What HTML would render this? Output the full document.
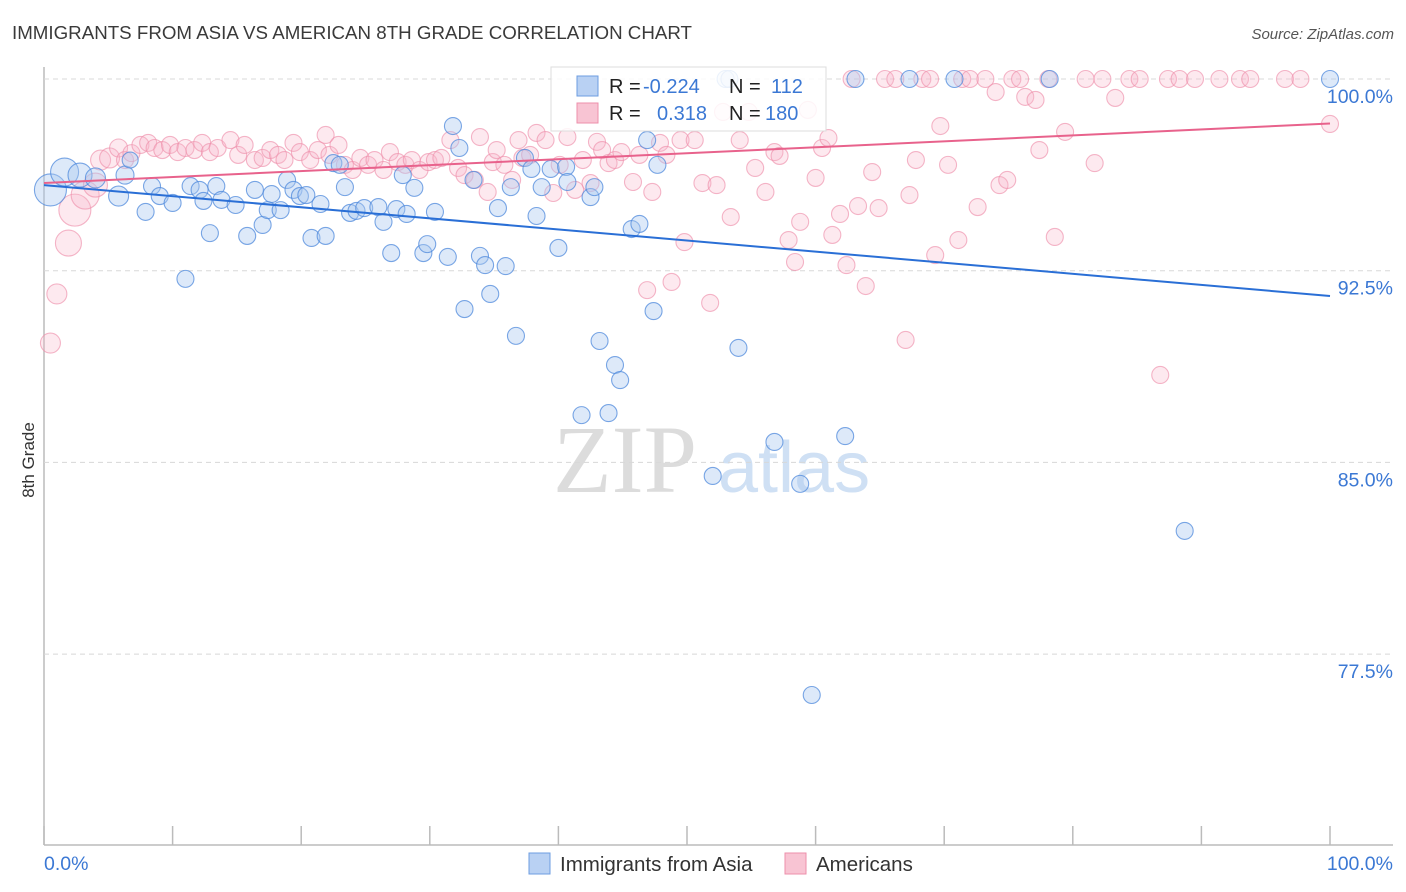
<!DOCTYPE html>
<html><head><meta charset="utf-8"><style>
body{margin:0;background:#fff;font-family:"Liberation Sans",sans-serif}
#wrap{position:relative;width:1406px;height:892px;overflow:hidden}
</style></head><body><div id="wrap">
<svg id="svg" width="1406" height="892" xmlns="http://www.w3.org/2000/svg">
<text x="12" y="39" font-size="18" fill="#3a3a3a" textLength="680" lengthAdjust="spacingAndGlyphs">IMMIGRANTS FROM ASIA VS AMERICAN 8TH GRADE CORRELATION CHART</text>
<text x="1394" y="39" font-size="15" fill="#555" font-style="italic" text-anchor="end">Source: ZipAtlas.com</text>
<text x="34" y="460" font-size="17" fill="#333" text-anchor="middle" transform="rotate(-90 34 460)">8th Grade</text>
<g><text x="553" y="492" font-size="96" font-family="Liberation Serif,serif" fill="#dcdcdc">ZIP</text><text x="718" y="492" font-size="72" fill="#cfe0f4">atlas</text></g>
<g id="grid"></g><g id="pts"></g><g id="lines"></g>
<g>
<rect x="551" y="67" width="275" height="64" fill="#fff" fill-opacity="0.85" stroke="#ddd"/>
<rect x="577" y="76" width="21" height="20" fill="#b9d1f3" stroke="#6d9de0"/>
<rect x="577" y="103" width="21" height="20" fill="#f8c4d3" stroke="#ee8fab"/>
<text x="609" y="93" font-size="20" fill="#222">R =</text><text x="643" y="93" font-size="20" fill="#3b78d4">-0.224</text>
<text x="729" y="93" font-size="20" fill="#222">N =</text><text x="771" y="93" font-size="20" fill="#3b78d4">112</text>
<text x="609" y="120" font-size="20" fill="#222">R =</text><text x="657" y="120" font-size="20" fill="#3b78d4">0.318</text>
<text x="729" y="120" font-size="20" fill="#222">N =</text><text x="765" y="120" font-size="20" fill="#3b78d4">180</text>
</g>
<g>
<rect x="529" y="853" width="21" height="21" fill="#b9d1f3" stroke="#6d9de0"/>
<text x="560" y="871" font-size="20.5" fill="#333">Immigrants from Asia</text>
<rect x="785" y="853" width="21" height="21" fill="#f8c4d3" stroke="#ee8fab"/>
<text x="816" y="871" font-size="20.5" fill="#333">Americans</text>
</g>
</svg></div>
<script>
const yTicks=[100,92.5,85,77.5];
const yTickLabels=["100.0%","92.5%","85.0%","77.5%"];
const xTickLabels=["0.0%","100.0%"];
const blueX=[0.5,1.6,2.8,4.0,5.8,6.3,6.7,7.9,8.4,9.0,10.0,11.0,11.4,12.1,12.4,12.9,13.4,13.8,14.9,15.8,16.4,17.0,17.4,17.7,18.4,18.9,19.4,19.9,20.4,20.8,21.5,21.9,22.5,23.0,23.4,23.8,24.3,24.9,26.0,26.4,27.0,27.4,27.9,28.2,28.8,29.5,29.8,30.4,31.4,31.8,32.3,32.7,33.4,33.9,34.3,34.7,35.3,35.9,36.3,36.7,37.4,37.9,38.3,38.7,39.4,40.0,40.6,40.7,41.8,42.5,42.8,43.2,43.9,44.4,44.8,45.7,46.3,46.9,47.4,47.7,52.0,53.0,53.3,54.0,56.8,58.8,59.7,62.3,63.1,67.3,70.8,78.2,88.7,100];
const blueY=[95.66,96.36,96.24,96.13,95.42,96.24,96.83,94.80,95.81,95.42,95.15,92.18,95.81,95.66,95.23,93.97,95.81,95.27,95.07,93.86,95.66,94.29,94.87,95.50,94.87,96.05,95.66,95.42,95.46,93.78,95.11,93.86,96.71,96.64,95.77,94.76,94.84,94.95,94.99,94.41,93.19,94.91,96.24,94.72,95.74,93.19,93.54,94.80,93.04,98.16,97.30,91.00,96.05,93.08,92.72,91.59,94.95,92.68,95.77,89.95,96.91,96.48,94.64,95.77,96.48,93.39,96.56,95.97,86.85,95.38,95.77,89.75,86.93,88.81,88.22,94.13,94.33,97.61,90.92,96.64,84.47,100,100,89.48,85.80,84.16,75.90,86.03,100,100,100,100,82.32,100];
const blueSize=[16,14,12,10,10,9,8];
const pinkX=[0.5,1.0,1.9,2.4,3.2,4.0,4.4,5.1,5.8,6.3,6.8,7.5,8.1,8.6,9.2,9.8,10.4,11.0,11.7,12.3,12.9,13.5,14.5,15.1,15.6,16.4,17.0,17.6,18.2,18.7,19.4,19.9,20.7,21.3,21.9,22.2,22.9,23.4,24.0,24.6,25.2,25.7,26.4,26.9,27.5,28.1,28.6,29.2,29.9,30.4,30.9,31.6,32.2,32.7,33.5,33.9,34.5,34.9,35.2,35.8,36.4,36.9,37.2,37.8,38.3,39.0,39.6,40.1,40.7,41.3,41.9,42.5,43.0,43.4,43.9,44.4,44.9,45.8,46.3,46.9,47.3,47.9,48.4,48.8,49.5,49.8,50.6,51.2,51.8,52.3,52.8,53.4,54.1,54.8,55.3,56.1,56.8,57.2,57.9,58.4,58.8,59.4,60.0,60.5,61.0,61.3,61.9,62.4,62.8,63.3,63.9,64.4,64.9,65.4,66.2,67.0,67.3,67.8,68.3,68.9,69.3,69.7,70.3,71.1,71.4,72.0,72.6,73.2,74.0,74.3,74.9,75.3,75.9,76.3,77.1,77.4,78.1,78.6,79.4,81.0,81.7,82.3,83.3,84.4,85.2,86.8,87.4,88.3,89.5,91.4,93.0,93.8,96.5,97.7,100];
const pinkY=[89.67,91.59,93.58,94.87,95.46,95.85,96.83,96.91,97.30,96.83,97.10,97.42,97.50,97.30,97.22,97.42,97.14,97.30,97.22,97.50,97.14,97.30,97.61,97.03,97.42,96.83,96.91,97.22,97.03,96.83,97.50,97.14,96.83,97.22,97.81,97.03,97.42,96.64,96.44,96.91,96.64,96.83,96.44,97.14,96.75,96.64,96.83,96.44,96.75,96.83,96.91,97.61,96.52,96.24,96.05,97.73,95.58,96.75,97.22,96.64,96.05,97.61,96.91,97.03,97.89,97.61,95.54,96.64,97.73,95.66,96.83,95.93,97.54,97.22,96.71,96.83,97.14,95.97,97.03,91.74,95.58,97.50,97.03,92.06,97.61,93.62,97.61,95.93,91.24,95.85,98.71,94.60,97.61,98.71,96.52,95.58,97.14,96.99,93.70,92.84,94.41,98.79,96.13,97.30,97.69,93.90,94.72,92.72,100,95.03,91.90,96.36,94.95,100,100,89.79,95.46,96.83,100,100,93.11,98.16,96.64,93.70,100,100,94.99,100,99.49,95.85,96.05,100,100,99.30,99.18,97.22,100,93.82,97.93,100,96.71,100,99.26,100,100,88.42,100,100,100,100,100,100,100,100,98.24];
const pinkSize=[10,10,13,16,14,12,10,10,9];
const blueFit=[95.85,91.51];
const pinkFit=[95.93,98.26];

const NS="http://www.w3.org/2000/svg";
const X0=44,X1=1330,YB=79,PXPER=191.7/7.5;
const sx=v=>X0+(X1-X0)*v/100;
const sy=v=>YB+(100-v)*PXPER;
function mk(t,a,p){const e=document.createElementNS(NS,t);for(const k in a)e.setAttribute(k,a[k]);p.appendChild(e);return e;}
const grid=document.getElementById('grid');
mk('line',{x1:44,y1:67,x2:44,y2:845,stroke:'#bbb','stroke-width':1.5},grid);
mk('line',{x1:44,y1:845,x2:1393,y2:845,stroke:'#bbb','stroke-width':1.5},grid);
for(let i=0;i<=10;i++){const l=mk('line',{x1:sx(i*10),y1:826,x2:sx(i*10),y2:845,stroke:'#bbb','stroke-width':1.5},grid);

}
yTicks.forEach((v,i)=>{const l=mk('line',{x1:44,y1:sy(v),x2:1393,y2:sy(v),stroke:'#d8d8d8','stroke-dasharray':'5,4'},grid);


const t=mk('text',{x:1393,y:sy(v)+24,'font-size':19.5,fill:'#3b78d4','text-anchor':'end'},grid);t.textContent=yTickLabels[i];

});
const xl0=mk('text',{x:44,y:870,'font-size':19.5,fill:'#3b78d4'},grid);xl0.textContent=xTickLabels[0];


const xl1=mk('text',{x:1393,y:870,'font-size':19.5,fill:'#3b78d4','text-anchor':'end'},grid);xl1.textContent=xTickLabels[1];


const pts=document.getElementById('pts');
pinkX.forEach((x,i)=>{const c=mk('circle',{cx:sx(x),cy:sy(pinkY[i]),r:pinkSize[i]||8.5,fill:'#f7b6c9','fill-opacity':0.3,stroke:'#ee8fab','stroke-opacity':0.65,'stroke-width':1.1},pts);

});
blueX.forEach((x,i)=>{const c=mk('circle',{cx:sx(x),cy:sy(blueY[i]),r:blueSize[i]||8.5,fill:'#a9c8f0','fill-opacity':0.4,stroke:'#4f89dc','stroke-opacity':0.75,'stroke-width':1.1},pts);

});
const lines=document.getElementById('lines');
const bl=mk('line',{x1:sx(0),y1:sy(blueFit[0]),x2:sx(100),y2:sy(blueFit[1]),stroke:'#2a6fd6','stroke-width':2},lines);


const pl=mk('line',{x1:sx(0),y1:sy(pinkFit[0]),x2:sx(100),y2:sy(pinkFit[1]),stroke:'#e8628c','stroke-width':2},lines);


</script></body></html>
